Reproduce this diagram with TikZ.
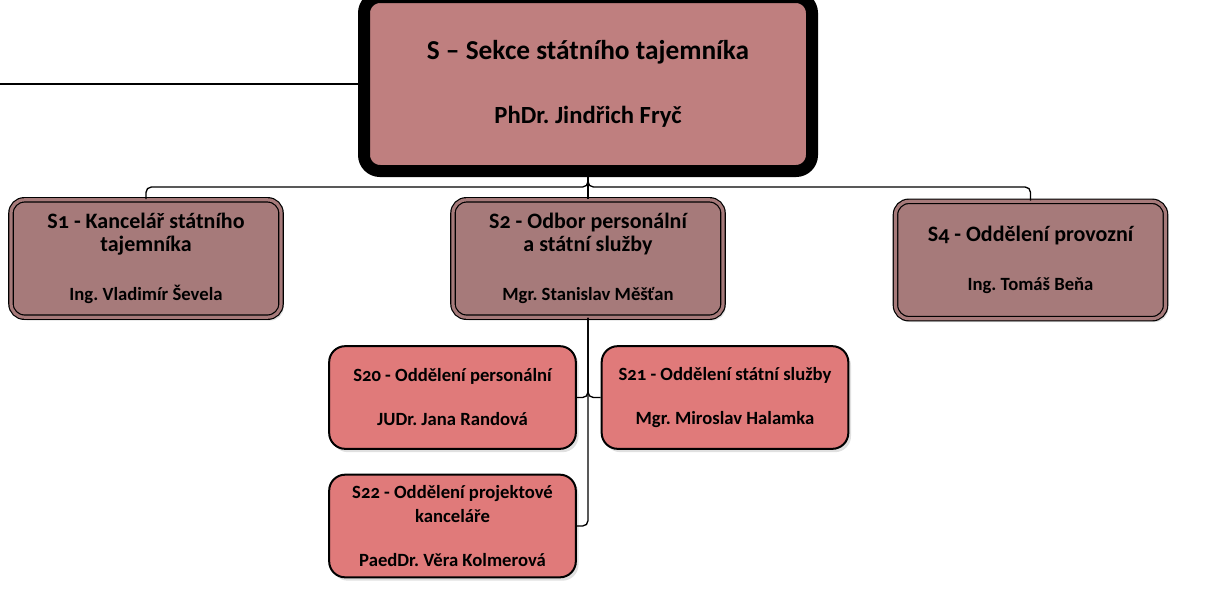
\documentclass[tikz,border=0pt]{standalone}
\usepackage{fontspec}
\setmainfont{Carlito}[Numbers=OldStyle]
\frenchspacing
\usetikzlibrary{shadows}

\definecolor{sekcefill}{RGB}{191,127,127}
\definecolor{odborfill}{RGB}{166,122,122}
\definecolor{oddfill}{RGB}{224,122,122}

\tikzset{
  sekce/.style={draw=black, line width=9pt, fill=sekcefill, rounded corners=12pt,
    minimum width=336pt, minimum height=130.5pt, align=center,
    font=\bfseries\fontsize{20.5}{22}\selectfont},
  odbor/.style={draw=black, line width=0.9pt, double=odborfill, double distance=2.4pt,
    fill=odborfill, rounded corners=10pt, minimum width=202.5pt, minimum height=88pt,
    align=center, font=\bfseries\fontsize{16.5}{17.5}\selectfont,
    drop shadow={shadow xshift=2pt, shadow yshift=-2.5pt, fill=black, opacity=0.12}},
  odd/.style={draw=black, line width=1.5pt, fill=oddfill, rounded corners=12pt,
    minimum width=185pt, minimum height=77pt, align=center,
    font=\bfseries\fontsize{14}{18}\selectfont,
    drop shadow={shadow xshift=2pt, shadow yshift=-2.5pt, fill=black, opacity=0.12}},
  spoj/.style={line width=1pt, rounded corners=4pt},
}

\begin{document}
\begin{tikzpicture}[x=0.75pt, y=-0.75pt]
\clip (0,0) rectangle (1212,604);

% sekce
\node[sekce] (S) at (588, 84) {S – Sekce státního tajemníka\\[26pt] {\fontsize{18.5}{22}\selectfont PhDr. Jindřich Fryč}};

% odbory a oddeleni pod sekci
\node[odbor] (S1) at (146, 258.5) {S1 - Kancelář státního\\ tajemníka\\[19pt] {\fontsize{14}{17.5}\selectfont Ing. Vladimír Ševela}};
\node[odbor] (S2) at (588, 258.5) {S2 - Odbor personální\\ a státní služby\\[19pt] {\fontsize{14}{17.5}\selectfont Mgr. Stanislav Měšťan}};
\node[odbor] (S4) at (1030.5, 260) {S4 - Oddělení provozní\\[19pt] {\fontsize{14}{17.5}\selectfont Ing. Tomáš Beňa}};

% oddeleni odboru S2
\node[odd] (S20) at (452.5, 397.5) {S20 - Oddělení personální\\[15pt] JUDr. Jana Randová};
\node[odd] (S21) at (725, 397.5) {S21 - Oddělení státní služby\\[15pt] Mgr. Miroslav Halamka};
\node[odd] (S22) at (452.5, 526) {S22 - Oddělení projektové\\[-0.5pt] kanceláře\\[15pt] PaedDr. Věra Kolmerová};

\coordinate (vlevo) at (0, 84);
\coordinate (uzel) at (588, 187);

\draw[spoj] (vlevo) -- (S.west);
\draw[spoj] (S.south) -- (S2.north);
\draw[spoj] (S.south) -- (uzel) -| (S1.north);
\draw[spoj] (S.south) -- (uzel) -| (S4.north);
\draw[spoj] (S2.south) |- (S20.east);
\draw[spoj] (S2.south) |- (S21.west);
\draw[spoj] (S2.south) |- (S22.east);

\end{tikzpicture}
\end{document}
